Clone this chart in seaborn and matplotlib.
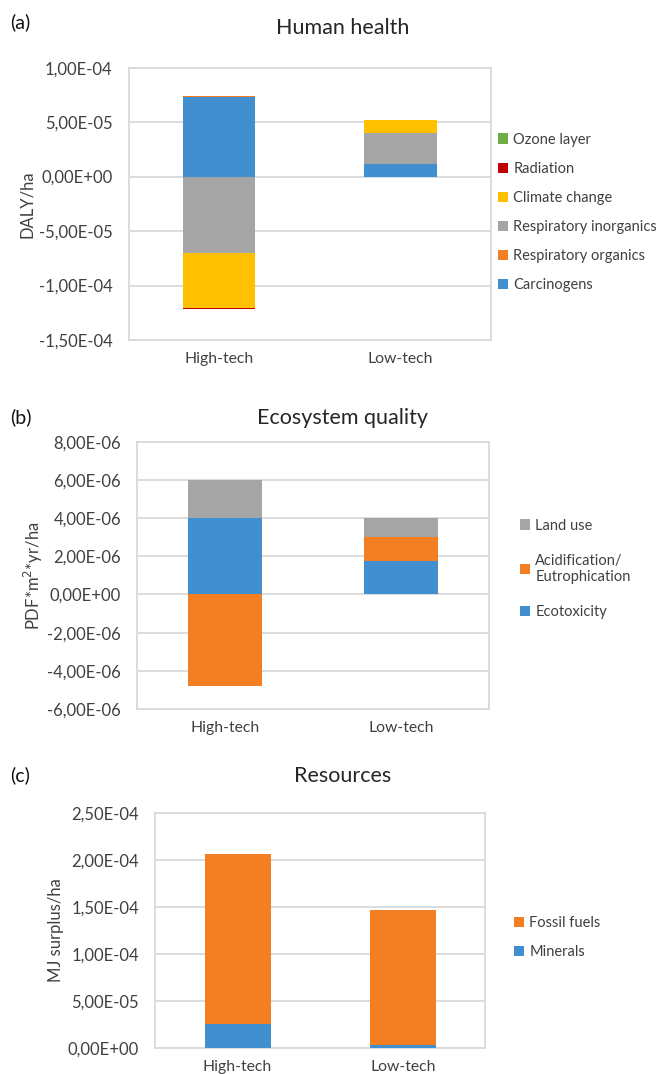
import numpy as np
import matplotlib
matplotlib.use("Agg")
import matplotlib.pyplot as plt
from matplotlib.ticker import FuncFormatter, MultipleLocator
from matplotlib.patches import Patch
import seaborn as sns

# ---- data -------------------------------------------------------------
categories = ["High-tech", "Low-tech"]

# (a) Human health, DALY/ha (stack order bottom -> top)
hh_series = ["Carcinogens", "Respiratory organics", "Respiratory inorganics",
             "Climate change", "Radiation", "Ozone layer"]
hh_high = [7.30e-5, 0.8e-6, -7.00e-5, -5.05e-5, -0.7e-6, 0.5e-6]
hh_low = [1.13e-5, 0.05e-6, 2.87e-5, 1.17e-5, 0.05e-6, 0.4e-6]
hh_colors = ["#418FCF", "#F47E22", "#A5A5A5", "#FFC000", "#C00000", "#70AD47"]

# (b) Ecosystem quality, PDF*m2*yr/ha
eq_series = ["Ecotoxicity", "Acidification/\nEutrophication", "Land use"]
eq_high = [4.00e-6, -4.82e-6, 2.00e-6]
eq_low = [1.76e-6, 1.25e-6, 0.99e-6]
eq_colors = ["#418FCF", "#F47E22", "#A5A5A5"]

# (c) Resources, MJ surplus/ha
res_series = ["Minerals", "Fossil fuels"]
res_high = [2.55e-5, 1.81e-4]
res_low = [0.28e-5, 1.433e-4]
res_colors = ["#418FCF", "#F47E22"]

# ---- style ------------------------------------------------------------
sns.set_theme(style="white")
plt.rcParams["font.family"] = ["Lato", "DejaVu Sans"]
GRID = "#D9D9D9"
TXT = "#404040"

W, H = 671, 1074
fig = plt.figure(figsize=(W / 100, H / 100), dpi=100)


def px_axes(left, top, right, bottom):
    return fig.add_axes([left / W, 1 - bottom / H, (right - left) / W, (bottom - top) / H])


def sci_comma(v, _pos):
    if abs(v) < 1e-20:
        v = 0.0
    return f"{v:.2E}".replace(".", ",")


def stacked(ax, series, high, low, colors, width):
    vals = np.array([high, low])  # rows: category
    pos = np.zeros(len(categories))
    neg = np.zeros(len(categories))
    for j, (name, col) in enumerate(zip(series, colors)):
        h = vals[:, j]
        bottoms = np.where(h >= 0, pos, neg)
        sns.barplot(x=categories, y=h, bottom=bottoms, color=col, width=width,
                    errorbar=None, ax=ax, zorder=3, linewidth=0, saturation=1)
        pos = pos + np.where(h >= 0, h, 0)
        neg = neg + np.where(h < 0, h, 0)


def style_axes(ax, ylim, step, ylabel, label_x):
    ax.set_ylim(*ylim)
    ax.set_xlim(-0.5, 1.5)
    ax.yaxis.set_major_locator(MultipleLocator(step))
    ax.yaxis.set_major_formatter(FuncFormatter(sci_comma))
    ax.grid(axis="y", color=GRID, linewidth=1.3, zorder=0)
    ax.grid(axis="x", visible=False)
    ax.set_axisbelow(True)
    for s in ax.spines.values():
        s.set_color(GRID)
        s.set_linewidth(1.3)
    ax.tick_params(axis="both", length=0, colors=TXT)
    ax.tick_params(axis="y", pad=11.5, labelsize=12)
    ax.tick_params(axis="x", pad=8.5, labelsize=11.3)
    ax.set_ylabel(ylabel, fontsize=12, color=TXT)
    ax.yaxis.set_label_coords(label_x, 0.5)


def legend(ax, series, colors, y_center, x_left, spacing):
    handles = [Patch(facecolor=c, edgecolor="none") for c in colors][::-1]
    labels = series[::-1]
    leg = ax.legend(handles, labels, loc="center left", bbox_to_anchor=(x_left, y_center),
                    frameon=False, fontsize=10.5, handlelength=0.7, handleheight=0.7,
                    handletextpad=0.35, labelspacing=spacing, borderpad=0, borderaxespad=0)
    for t in leg.get_texts():
        t.set_color(TXT)


# (a) Human health
ax_a = px_axes(128.5, 67.7, 491, 340)
stacked(ax_a, hh_series, hh_high, hh_low, hh_colors, 0.4)
style_axes(ax_a, (-1.5e-4, 1.0e-4), 5e-5, "DALY/ha", -0.258)
legend(ax_a, hh_series, hh_colors, 0.468, 1.019, 1.04)

# (b) Ecosystem quality
ax_b = px_axes(137, 441.7, 489, 709)
stacked(ax_b, eq_series, eq_high, eq_low, eq_colors, 0.42)
style_axes(ax_b, (-6e-6, 8e-6), 2e-6, "PDF*m$^2$*yr/ha", -0.261)
legend(ax_b, eq_series, eq_colors, 0.524, 1.088, 1.45)

# (c) Resources
ax_c = px_axes(155, 812.7, 485.5, 1047.7)
stacked(ax_c, res_series, res_high, res_low, res_colors, 0.4)
style_axes(ax_c, (0, 2.5e-4), 5e-5, "MJ surplus/ha", -0.275)
legend(ax_c, res_series, res_colors, 0.468, 1.086, 1.05)

# panel titles and letters
for title, y in [("Human health", 28), ("Ecosystem quality", 418), ("Resources", 776)]:
    fig.text(343 / W, 1 - y / H, title, ha="center", va="center", fontsize=15.5, color="#262626")
for letter, y in [("(a)", 22), ("(b)", 417), ("(c)", 775)]:
    fig.text(10 / W, 1 - y / H, letter, ha="left", va="center", fontsize=14, color="#111111")

fig.savefig("out.png", dpi=100)
